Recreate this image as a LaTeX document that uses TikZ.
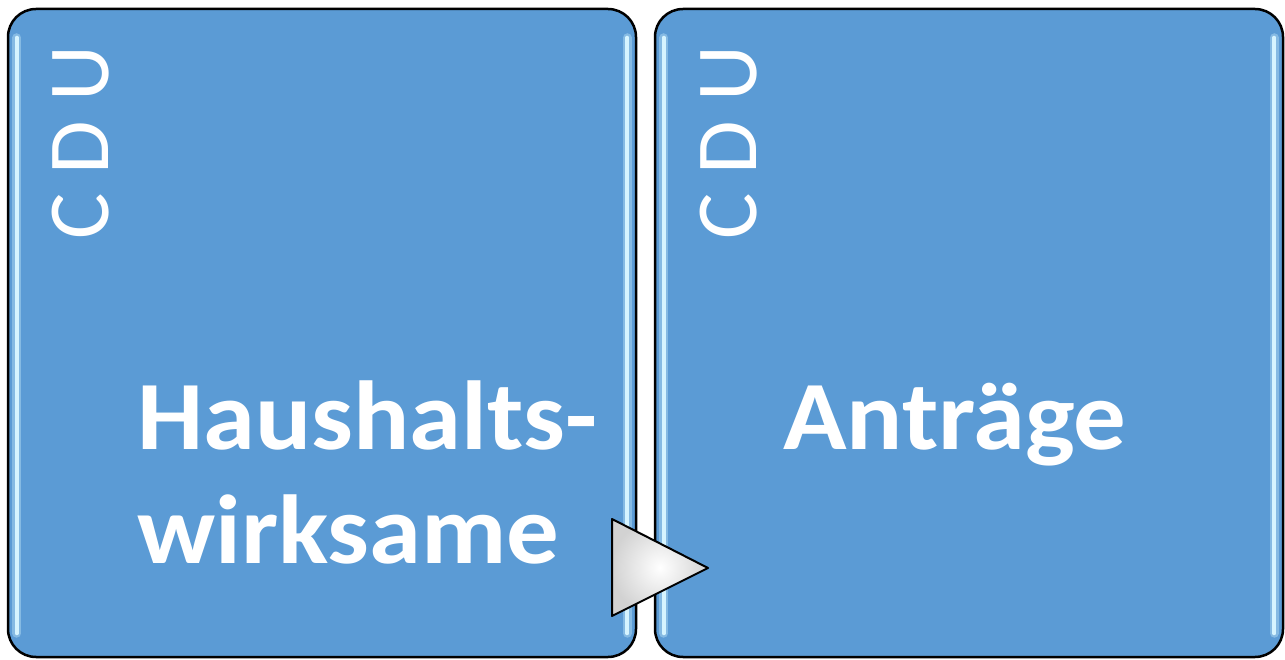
\documentclass[tikz,border=0pt]{standalone}
\usepackage{fontspec}
\setmainfont{Carlito}
\newfontfamily\cdufont[LetterSpace=22]{Carlito}
\newfontfamily\titlefont[FakeStretch=1.07]{Carlito}
\usetikzlibrary{positioning,calc}

\definecolor{panelblue}{HTML}{5B9BD5}
\definecolor{glowblue}{HTML}{D6F4FF}

\tikzset{
  panel/.style={draw=black, line width=2.5pt, fill=panelblue, rounded corners=28pt,
    minimum width=628pt, minimum height=648pt, inner sep=0pt},
  glow/.style={draw=glowblue, line width=4pt, line cap=round},
  haze/.style={draw=glowblue, line width=9pt, line cap=round, opacity=0.35},
  title/.style={text=white, font=\titlefont\bfseries\fontsize{98}{113}\selectfont, align=left, inner sep=0pt},
  party/.style={text=white, font=\cdufont\fontsize{87}{87}\selectfont, rotate=90, inner sep=0pt},
  pointer/.style={draw=black, line width=2pt, line join=round, shade, inner color=white, outer color=gray!35}
}

\begin{document}
\begin{tikzpicture}[x=1pt,y=1pt]
  \useasboundingbox (0,0) rectangle (1285,659);

  % the two panels
  \node[panel] (haus) at (322,326) {};
  \node[panel] (antr) at (969,326) {};

  % glossy edges
  \foreach \p in {haus,antr} {
    \draw[haze] ([xshift=10pt,yshift=-30pt]\p.north west) -- ([xshift=10pt,yshift=25pt]\p.south west);
    \draw[haze] ([xshift=-10pt,yshift=-30pt]\p.north east) -- ([xshift=-10pt,yshift=25pt]\p.south east);
    \draw[glow] ([xshift=10pt,yshift=-30pt]\p.north west) -- ([xshift=10pt,yshift=25pt]\p.south west);
    \draw[glow] ([xshift=-10pt,yshift=-30pt]\p.north east) -- ([xshift=-10pt,yshift=25pt]\p.south east);
  }

  % labels
  \node[party, anchor=base west] (cduA) at (108,419) {CDU};
  \node[party, anchor=base west] (cduB) at (756,419) {CDU};
  \node[title, anchor=base west] (hausText) at (137,96) {Haushalts-\\wirksame};
  \node[title, anchor=base west] (antrText) at (783,209) {Anträge};

  % step pointer
  \path[pointer] (612,140) -- (708,91) -- (612,43) -- cycle;

\end{tikzpicture}
\end{document}
